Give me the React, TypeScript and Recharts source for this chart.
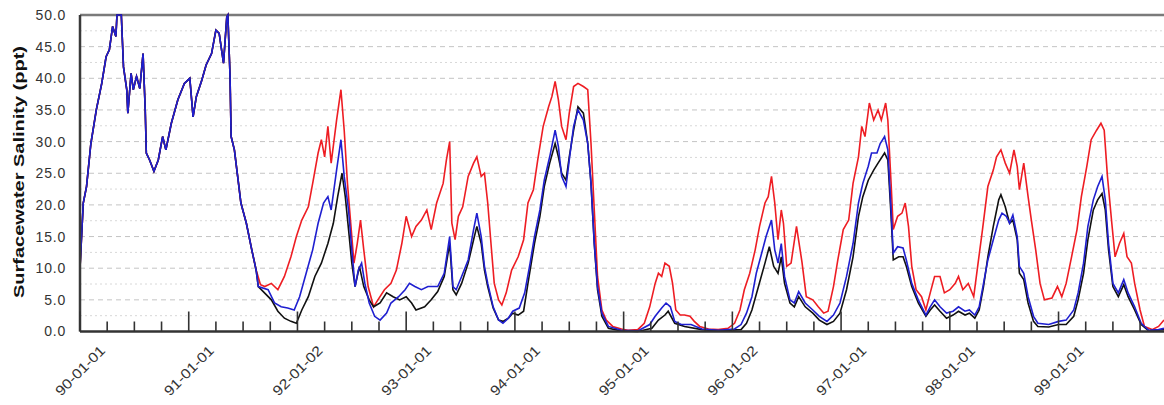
import { LineChart, Line, XAxis, YAxis, ReferenceLine } from 'recharts'

// time in years since 1990-01-01, salinity in ppt
// 1990 - mid 1991: the three runs sit on top of each other
const earlyT = [0, 0.03, 0.06, 0.1, 0.15, 0.2, 0.24, 0.27, 0.3, 0.33, 0.34, 0.38, 0.4, 0.43, 0.44, 0.47, 0.49, 0.52, 0.55, 0.58, 0.6, 0.61, 0.64, 0.68, 0.72, 0.76, 0.79, 0.84, 0.9, 0.96, 1.01, 1.04, 1.07, 1.12, 1.16, 1.21, 1.25, 1.28, 1.32, 1.35, 1.36, 1.38, 1.39, 1.42, 1.45, 1.48, 1.53, 1.58, 1.62]
const earlyV = [10, 20.3, 22.9, 29.7, 35, 39.2, 43.4, 44.5, 48.2, 46.6, 50, 50, 41.8, 38.2, 34.5, 40.8, 38.2, 40.3, 38.4, 43.9, 35, 28.2, 27.1, 25.3, 27.1, 30.8, 28.7, 32.9, 36.6, 39.2, 40, 33.9, 37.1, 39.7, 42.1, 43.9, 47.6, 47.1, 42.4, 49.7, 50, 40.3, 30.8, 28.7, 24.5, 20.3, 17.1, 12.9, 9.7]

const redT = [1.66, 1.7, 1.76, 1.82, 1.88, 1.94, 1.99, 2.04, 2.1, 2.14, 2.19, 2.22, 2.25, 2.28, 2.31, 2.36, 2.4, 2.43, 2.46, 2.49, 2.52, 2.55, 2.58, 2.61, 2.65, 2.7, 2.74, 2.8, 2.86, 2.91, 2.96, 3.0, 3.05, 3.09, 3.14, 3.19, 3.23, 3.28, 3.34, 3.37, 3.4, 3.42, 3.45, 3.48, 3.52, 3.57, 3.62, 3.65, 3.69, 3.72, 3.75, 3.78, 3.81, 3.85, 3.88, 3.92, 3.97, 4.03, 4.08, 4.12, 4.17, 4.21, 4.26, 4.31, 4.34, 4.37, 4.4, 4.43, 4.47, 4.5, 4.54, 4.58, 4.63, 4.67, 4.7, 4.73, 4.76, 4.8, 4.84, 4.9, 4.98, 5.04, 5.13, 5.19, 5.24, 5.29, 5.32, 5.35, 5.38, 5.42, 5.45, 5.48, 5.52, 5.56, 5.61, 5.65, 5.7, 5.78, 5.87, 5.96, 6.02, 6.07, 6.11, 6.16, 6.21, 6.25, 6.3, 6.33, 6.36, 6.39, 6.42, 6.45, 6.47, 6.5, 6.54, 6.59, 6.64, 6.68, 6.74, 6.79, 6.84, 6.88, 6.93, 6.97, 7.02, 7.07, 7.11, 7.16, 7.19, 7.22, 7.26, 7.3, 7.34, 7.37, 7.41, 7.43, 7.46, 7.48, 7.52, 7.56, 7.59, 7.62, 7.65, 7.69, 7.74, 7.78, 7.82, 7.86, 7.91, 7.95, 8.0, 8.05, 8.08, 8.12, 8.17, 8.22, 8.26, 8.3, 8.35, 8.4, 8.43, 8.47, 8.51, 8.55, 8.59, 8.62, 8.64, 8.68, 8.72, 8.75, 8.79, 8.83, 8.87, 8.94, 8.99, 9.03, 9.07, 9.12, 9.17, 9.21, 9.26, 9.3, 9.35, 9.39, 9.42, 9.45, 9.49, 9.52, 9.56, 9.6, 9.63, 9.67, 9.7, 9.75, 9.79, 9.86, 9.92, 9.97]
const redV = [7.4, 7.1, 7.6, 6.6, 8.7, 11.8, 15, 17.6, 19.7, 23.4, 28.2, 30.3, 27.6, 32.4, 26.6, 33.4, 38.2, 31.8, 23.4, 17.1, 10.8, 13.9, 17.6, 12.9, 7.1, 3.9, 5, 6.6, 7.6, 9.7, 13.9, 18.2, 15, 16.6, 17.6, 19.2, 16.1, 20.3, 23.4, 27.1, 30, 17.1, 14.5, 18.2, 19.7, 24.5, 26.6, 27.6, 24.5, 25, 20.3, 13.9, 7.6, 5, 4.2, 6.1, 9.7, 11.8, 14.5, 20.3, 22.4, 27.1, 32.4, 35.5, 37.1, 39.5, 36.6, 32.4, 30.3, 34.5, 38.7, 39.2, 38.7, 38.2, 29.7, 19.2, 8.7, 3.4, 1.8, 0.8, 0.4, 0.2, 0.3, 1.3, 3.9, 7.6, 9.2, 8.7, 10.8, 10.3, 7.6, 3.4, 2.6, 2.6, 2.4, 1.6, 0.8, 0.4, 0.3, 0.5, 1.3, 3.4, 6.6, 9.2, 12.9, 16.6, 20.3, 21.3, 24.5, 20.3, 14.5, 19.2, 17.1, 10.3, 10.8, 16.6, 11, 5.5, 5, 3.9, 2.9, 3.2, 7.1, 11.3, 16.1, 17.6, 23.4, 27.6, 32.4, 30.8, 36.1, 33.4, 35, 33.4, 36.1, 33.4, 23.4, 16.1, 18.2, 18.7, 20.3, 16.6, 10.3, 6.6, 5.5, 3.4, 6.1, 8.7, 8.7, 6.1, 6.6, 7.6, 8.7, 6.6, 7.6, 5.5, 10.8, 16, 22.9, 25.5, 27.6, 28.7, 26.6, 25, 28.7, 26.1, 22.4, 26.6, 21.3, 17.6, 12.9, 7.6, 5, 5.3, 7.1, 5.5, 7.6, 11.8, 16.1, 21.3, 26.1, 30.3, 31.8, 32.9, 31.8, 24.5, 17.1, 11.8, 13.9, 15.5, 11.8, 10.8, 7.6, 3.4, 0.8, 0.3, 0.8, 1.8]

const blueT = [1.64, 1.73, 1.79, 1.85, 1.91, 1.97, 2.02, 2.08, 2.14, 2.19, 2.24, 2.28, 2.31, 2.36, 2.4, 2.43, 2.47, 2.5, 2.53, 2.56, 2.59, 2.62, 2.66, 2.71, 2.76, 2.82, 2.86, 2.93, 2.99, 3.03, 3.08, 3.14, 3.2, 3.26, 3.29, 3.35, 3.4, 3.43, 3.46, 3.51, 3.57, 3.62, 3.65, 3.69, 3.72, 3.75, 3.8, 3.85, 3.89, 3.94, 3.98, 4.04, 4.09, 4.14, 4.18, 4.23, 4.27, 4.32, 4.37, 4.4, 4.43, 4.47, 4.5, 4.54, 4.58, 4.63, 4.67, 4.7, 4.73, 4.76, 4.8, 4.86, 4.98, 5.13, 5.24, 5.29, 5.35, 5.39, 5.43, 5.47, 5.53, 5.62, 5.72, 5.87, 6.02, 6.08, 6.13, 6.18, 6.22, 6.27, 6.31, 6.36, 6.39, 6.42, 6.45, 6.48, 6.53, 6.57, 6.61, 6.67, 6.74, 6.8, 6.87, 6.93, 6.99, 7.05, 7.11, 7.16, 7.2, 7.25, 7.28, 7.33, 7.36, 7.4, 7.43, 7.46, 7.48, 7.52, 7.57, 7.6, 7.65, 7.71, 7.78, 7.82, 7.86, 7.91, 7.97, 8.03, 8.08, 8.14, 8.18, 8.23, 8.27, 8.31, 8.35, 8.4, 8.45, 8.48, 8.52, 8.55, 8.58, 8.62, 8.64, 8.68, 8.72, 8.77, 8.81, 8.91, 9.0, 9.07, 9.14, 9.18, 9.23, 9.27, 9.32, 9.36, 9.4, 9.43, 9.46, 9.5, 9.55, 9.6, 9.64, 9.7, 9.76, 9.83, 9.92, 9.97]
const blueV = [7.1, 6.6, 4.5, 3.9, 3.7, 3.4, 5.5, 9.2, 12.9, 17.1, 20.3, 21.3, 19.2, 25.5, 30.3, 24.5, 19.2, 12.9, 7.1, 9.7, 10.8, 7.6, 4.5, 2.4, 1.8, 2.9, 4.5, 5.5, 6.6, 7.6, 7.1, 6.6, 7.1, 7.1, 7.1, 9.2, 15, 7.1, 6.6, 8.7, 11.3, 16.1, 18.7, 15, 10.3, 7.6, 3.9, 1.8, 1.3, 2.1, 3.2, 3.7, 6.1, 10.8, 15, 19.2, 23.9, 27.6, 31.8, 29.2, 24.5, 22.9, 27.1, 32.4, 35, 33.4, 29.7, 23.4, 13.9, 7.1, 2.9, 0.8, 0.2, 0.1, 1.1, 2.4, 3.7, 4.5, 3.9, 1.6, 1.1, 1.1, 0.4, 0.2, 0.4, 1.1, 2.9, 5.5, 9.2, 12.4, 15, 17.6, 12.9, 10.8, 13.9, 8.7, 5, 4.5, 6.3, 4.5, 3.4, 2.4, 1.6, 2.6, 4.5, 8.7, 13.9, 20.3, 23.4, 26.1, 28.2, 28.2, 29.7, 30.8, 28.7, 19.2, 12.4, 13.4, 13.2, 11.3, 7.6, 5, 2.6, 3.9, 5, 3.9, 2.9, 3.2, 3.9, 3.2, 3.4, 2.6, 3.9, 7.6, 11.3, 14.5, 17.6, 18.7, 18.2, 17.1, 18.4, 15, 10.3, 9.2, 5.5, 2.4, 1.3, 1.1, 1.6, 1.8, 3.4, 6.1, 10.8, 16.6, 20.8, 22.9, 24.5, 20.8, 13.9, 7.6, 6.1, 8.2, 6.1, 3.9, 1.3, 0.2, 0.3, 0.5]

const blackT = [1.64, 1.76, 1.82, 1.88, 1.94, 1.99, 2.04, 2.1, 2.16, 2.22, 2.28, 2.33, 2.37, 2.41, 2.44, 2.47, 2.5, 2.53, 2.57, 2.61, 2.66, 2.7, 2.76, 2.82, 2.88, 2.94, 3.0, 3.05, 3.09, 3.17, 3.23, 3.29, 3.35, 3.4, 3.43, 3.46, 3.51, 3.57, 3.62, 3.65, 3.69, 3.72, 3.75, 3.8, 3.85, 3.89, 3.94, 3.98, 4.03, 4.08, 4.12, 4.18, 4.23, 4.27, 4.32, 4.37, 4.4, 4.43, 4.47, 4.5, 4.54, 4.58, 4.63, 4.67, 4.7, 4.73, 4.76, 4.8, 4.86, 4.98, 5.13, 5.26, 5.32, 5.38, 5.41, 5.47, 5.56, 5.72, 5.87, 6.08, 6.13, 6.18, 6.24, 6.3, 6.34, 6.38, 6.42, 6.45, 6.48, 6.53, 6.57, 6.61, 6.67, 6.74, 6.8, 6.87, 6.93, 6.99, 7.05, 7.11, 7.16, 7.2, 7.25, 7.3, 7.34, 7.4, 7.43, 7.46, 7.48, 7.53, 7.57, 7.6, 7.65, 7.71, 7.78, 7.82, 7.86, 7.91, 7.97, 8.03, 8.08, 8.14, 8.18, 8.23, 8.27, 8.31, 8.35, 8.4, 8.45, 8.47, 8.51, 8.55, 8.58, 8.62, 8.64, 8.68, 8.72, 8.77, 8.81, 8.91, 9.0, 9.07, 9.14, 9.18, 9.23, 9.27, 9.32, 9.36, 9.4, 9.43, 9.46, 9.5, 9.55, 9.6, 9.64, 9.7, 9.76, 9.83, 9.97]
const blackV = [7.1, 5, 3.2, 2.1, 1.6, 1.3, 3.4, 5.5, 8.7, 10.8, 13.9, 17.1, 21.3, 25, 21.3, 16.1, 10.8, 7.1, 10.3, 7.1, 5, 3.9, 4.5, 6.1, 5.5, 5, 5.5, 4.5, 3.4, 3.9, 5, 6.3, 8.7, 13.9, 6.6, 5.8, 7.6, 10.8, 14.5, 16.6, 13.9, 9.7, 7.1, 3.7, 1.8, 1.6, 2.1, 2.9, 2.6, 3.2, 7.6, 13.9, 18.2, 22.9, 26.6, 29.7, 27.6, 25, 23.9, 27.6, 31.8, 35.5, 34.5, 29.7, 23.4, 13.9, 6.6, 2.4, 0.5, 0.1, 0, 0.5, 1.8, 2.6, 3.2, 1.3, 0.8, 0.3, 0.1, 0.3, 1.3, 3.4, 7.1, 10.8, 13.4, 10.3, 9.2, 11.8, 7.6, 4.5, 3.9, 5.5, 3.9, 2.9, 1.8, 1.1, 1.6, 2.9, 6.6, 11.8, 18.2, 21.3, 23.9, 25.5, 26.6, 28.2, 27.1, 18.2, 11.3, 11.8, 11.8, 10.3, 7.1, 4.5, 2.4, 3.4, 4.2, 3.2, 2.1, 2.6, 3.2, 2.6, 2.9, 2.1, 3.4, 7.1, 11.8, 16.6, 20.8, 21.6, 19.7, 17.1, 17.6, 14.5, 9.2, 8.2, 4.5, 1.6, 0.8, 0.7, 1.1, 1.1, 2.4, 5, 9.2, 14.5, 19.2, 20.8, 21.8, 19.2, 12.9, 7.1, 5.5, 7.4, 5.5, 3.4, 1.1, 0.1, 0.3]

const yearLabels = ['90-01-01', '91-01-01', '92-01-02', '93-01-01', '94-01-01', '95-01-01', '96-01-02', '97-01-01', '98-01-01', '99-01-01']
const yTicks = [0, 5, 10, 15, 20, 25, 30, 35, 40, 45, 50]
const majorGrid = [5, 10, 15, 20, 25, 30, 35, 40, 45]
const minorGrid = [2.5, 7.5, 12.5, 17.5, 22.5, 27.5, 32.5, 37.5, 42.5, 47.5]
const quarterTicks = Array.from({ length: 40 }, (_, i) => i / 4)

const FONT = '"Liberation Sans", Arial, sans-serif'

const toPoints = (ts: number[], vs: number[]) => ts.map((t, i) => ({ t, v: vs[i] }))

const early = toPoints(earlyT, earlyV)
const redData = [...early, ...toPoints(redT, redV)]
const blueData = [...early, ...toPoints(blueT, blueV)]
const blackData = [...early, ...toPoints(blackT, blackV)]

function DateTick(props: any) {
  const { x, y, payload } = props
  const v = payload.value as number
  const isYear = Math.abs(v - Math.round(v)) < 1e-6
  const ly = y + 39
  return (
    <g>
      <line x1={x} y1={y} x2={x} y2={y - (isYear ? 20 : 10)} stroke="#333" strokeWidth={1.6} />
      {isYear && (
        <text
          x={x}
          y={ly}
          textAnchor="middle"
          dominantBaseline="central"
          transform={`rotate(-45 ${x} ${ly})`}
          fontSize={14}
          fontFamily={FONT}
          fill="#333"
          textLength={64}
          lengthAdjust="spacingAndGlyphs"
        >
          {yearLabels[Math.round(v)]}
        </text>
      )}
    </g>
  )
}

export default function App() {
  return (
    <div style={{ position: 'absolute', left: 0, top: 0, background: '#fff' }}>
      <LineChart width={1164} height={405} margin={{ top: 15, right: 0, bottom: 0, left: 0 }}>
        {minorGrid.map(v => (
          <ReferenceLine key={`mi${v}`} y={v} stroke="#d8d8d8" strokeDasharray="2 3" />
        ))}
        {majorGrid.map(v => (
          <ReferenceLine key={`ma${v}`} y={v} stroke="#c4c4c4" strokeDasharray="5 4" />
        ))}
        <ReferenceLine y={50} stroke="#7a7a7a" strokeWidth={2.5} />
        <XAxis
          type="number"
          dataKey="t"
          domain={[0, 9.97]}
          allowDataOverflow
          ticks={quarterTicks}
          interval={0}
          height={73.5}
          tickSize={0}
          tickMargin={0}
          tickLine={false}
          axisLine={{ stroke: '#333', strokeWidth: 2.5 }}
          tick={<DateTick />}
        />
        <YAxis
          type="number"
          domain={[0, 50]}
          ticks={yTicks}
          interval={0}
          width={80}
          tickLine={false}
          tickMargin={8}
          axisLine={{ stroke: '#3a3a3a', strokeWidth: 2.5 }}
          tickFormatter={(v: number) => v.toFixed(1)}
          tick={{ fontSize: 14, fill: '#333', fontFamily: FONT, letterSpacing: 0.8 }}
          label={{
            content: () => (
              <text
                x={24}
                y={172}
                transform="rotate(-90 24 172)"
                textAnchor="middle"
                fontSize={15}
                fontWeight="bold"
                fontFamily={FONT}
                fill="#111"
                textLength={252}
                lengthAdjust="spacingAndGlyphs"
              >
                Surfacewater Salinity (ppt)
              </text>
            ),
          }}
        />
        <Line data={redData} dataKey="v" type="linear" stroke="#ee1d23" strokeWidth={1.6} dot={false} isAnimationActive={false} />
        <Line data={blackData} dataKey="v" type="linear" stroke="#111111" strokeWidth={1.6} dot={false} isAnimationActive={false} />
        <Line data={blueData} dataKey="v" type="linear" stroke="#1f1fd0" strokeWidth={1.6} dot={false} isAnimationActive={false} />
      </LineChart>
    </div>
  )
}
